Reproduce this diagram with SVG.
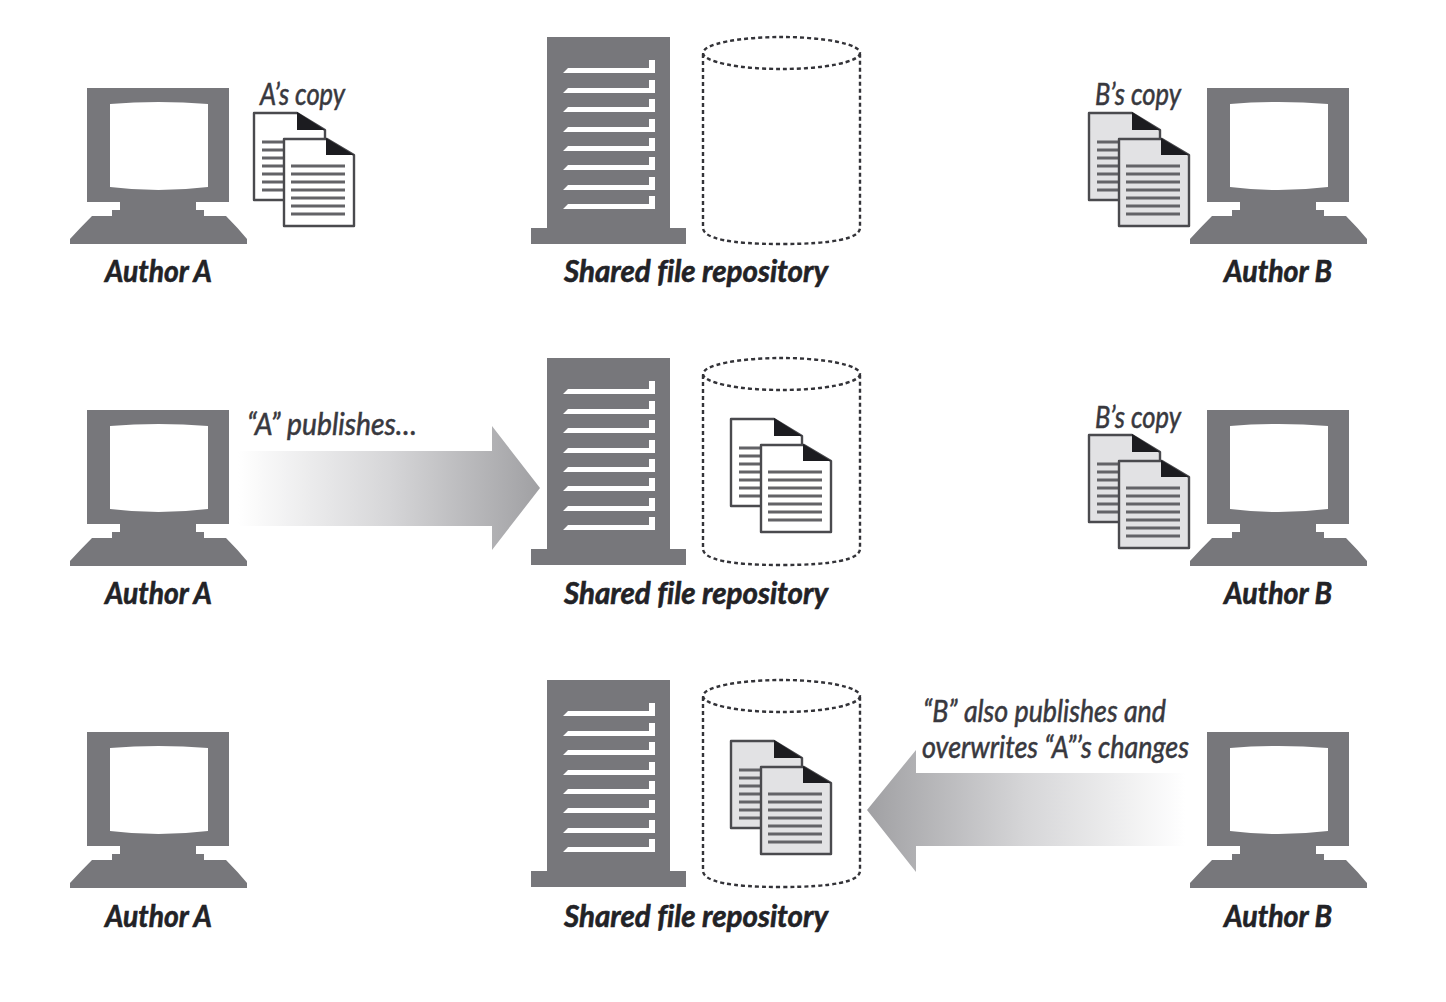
<svg xmlns="http://www.w3.org/2000/svg" width="1446" height="1002" viewBox="0 0 1446 1002">
<style>
text{font-family:Lato,"Open Sans","Liberation Sans",sans-serif;font-style:italic;font-variant-ligatures:none;fill:#2b2b30}
.b{font-weight:700;font-size:31px;fill:#222226;stroke:#222226;stroke-width:.6}
.n{font-weight:400;font-size:31px;fill:#38383e;stroke:#38383e;stroke-width:.55}
.g{fill:#77777b}
.w{fill:#fff}
.page{stroke:#4a4a4e;stroke-width:2.4;stroke-linejoin:round}
.white{fill:#fff}
.gray{fill:#e2e2e4}
.ln{stroke:#636367;stroke-width:3}
.cyl{fill:none;stroke:#333338;stroke-width:2.4;stroke-dasharray:4 3}
</style>
<defs>
<linearGradient id="gr" x1="0" x2="1" y1="0" y2="0"><stop offset="0" stop-color="#fff"/><stop offset=".5" stop-color="#d6d6d8"/><stop offset="1" stop-color="#a0a0a3"/></linearGradient>
<linearGradient id="gl" x1="1" x2="0" y1="0" y2="0"><stop offset="0" stop-color="#fff"/><stop offset=".5" stop-color="#d6d6d8"/><stop offset="1" stop-color="#a0a0a3"/></linearGradient>
<symbol id="pc" overflow="visible">
<path class="g" d="M87 88H229V202H196V210H204V216H226Q238 228 247 239V244H70V239Q80 228 92 216H112V210H120V202H87Z"/>
<path class="w" d="M110 104Q158 100 208 104V187Q158 193 110 187Z"/>
</symbol>
<symbol id="srv" overflow="visible">
<path class="g" d="M547 37H670V228H686V244H531V228H547Z"/>
<path id="slot" class="w" d="M563 73L568 68H649V60H655V73H563Z"/>
<use href="#slot" y="20"/><use href="#slot" y="39"/><use href="#slot" y="59"/><use href="#slot" y="78"/><use href="#slot" y="97"/><use href="#slot" y="117"/><use href="#slot" y="136"/>
</symbol>
<symbol id="cyl" overflow="visible">
<path class="cyl" d="M703 54V228Q704 244 781 244Q859 244 860 228V54"/>
<ellipse class="cyl" cx="781.500" cy="53" rx="78.500" ry="16"/>
</symbol>
<symbol id="docw" overflow="visible">
<path class="page white" d="M254 113H297L325 130V200H254Z"/>
<path d="M297 112L325 130H297Z" fill="#1c1c20"/>
<path class="ln" d="M262 142H284M262 150H284M262 158H284M262 166H284M262 174H284M262 182H284M262 190H284"/>
<path class="page white" d="M284 139H327L354 155V226H284Z"/>
<path d="M326 138L354 155H326Z" fill="#1c1c20"/>
<path class="ln" d="M291 166H345M291 174H345M291 182H345M291 190H345M291 198H345M291 206H345M291 214H345"/>
</symbol>
<symbol id="docg" overflow="visible">
<path class="page gray" d="M254 113H297L325 130V200H254Z"/>
<path d="M297 112L325 130H297Z" fill="#1c1c20"/>
<path class="ln" d="M262 142H284M262 150H284M262 158H284M262 166H284M262 174H284M262 182H284M262 190H284"/>
<path class="page gray" d="M284 139H327L354 155V226H284Z"/>
<path d="M326 138L354 155H326Z" fill="#1c1c20"/>
<path class="ln" d="M291 166H345M291 174H345M291 182H345M291 190H345M291 198H345M291 206H345M291 214H345"/>
</symbol>
</defs>
<rect width="1446" height="1002" fill="#fff"/>
<g id="connectors">
<path fill="url(#gr)" d="M238 451H492V426L540 488L492 550V526H238Z"/>
<path fill="url(#gl)" d="M1185 773H916V750L867 810L916 872V846H1185Z"/>
</g>
<g id="author-a-1"><use href="#pc"/><text class="b" x="105" y="282" textLength="107" lengthAdjust="spacingAndGlyphs">Author A</text></g>
<g id="a-copy"><use href="#docw"/><text class="n" x="260" y="105" textLength="85" lengthAdjust="spacingAndGlyphs">A’s copy</text></g>
<g id="repo-1"><use href="#srv"/><use href="#cyl"/><text class="b" x="564" y="282" textLength="264" lengthAdjust="spacingAndGlyphs">Shared file repository</text></g>
<g id="author-b-1"><use href="#pc" x="1120"/><text class="b" x="1224" y="282" textLength="108" lengthAdjust="spacingAndGlyphs">Author B</text></g>
<g id="b-copy-1"><use href="#docg" x="835"/><text class="n" x="1095" y="105" textLength="86" lengthAdjust="spacingAndGlyphs">B’s copy</text></g>
<g id="author-a-2"><use href="#pc" y="322"/><text class="b" x="105" y="604" textLength="107" lengthAdjust="spacingAndGlyphs">Author A</text></g>
<text class="n" x="247" y="435" textLength="170" lengthAdjust="spacingAndGlyphs">“A” publishes…</text>
<g id="repo-2"><use href="#srv" y="321"/><use href="#cyl" y="321"/><use href="#docw" x="477" y="306"/><text class="b" x="564" y="604" textLength="264" lengthAdjust="spacingAndGlyphs">Shared file repository</text></g>
<g id="author-b-2"><use href="#pc" x="1120" y="322"/><text class="b" x="1224" y="604" textLength="108" lengthAdjust="spacingAndGlyphs">Author B</text></g>
<g id="b-copy-2"><use href="#docg" x="835" y="322"/><text class="n" x="1095" y="428" textLength="86" lengthAdjust="spacingAndGlyphs">B’s copy</text></g>
<g id="author-a-3"><use href="#pc" y="644"/><text class="b" x="105" y="927" textLength="107" lengthAdjust="spacingAndGlyphs">Author A</text></g>
<g id="repo-3"><use href="#srv" y="643"/><use href="#cyl" y="643"/><use href="#docg" x="477" y="628"/><text class="b" x="564" y="927" textLength="264" lengthAdjust="spacingAndGlyphs">Shared file repository</text></g>
<g id="author-b-3"><use href="#pc" x="1120" y="644"/><text class="b" x="1224" y="927" textLength="108" lengthAdjust="spacingAndGlyphs">Author B</text></g>
<text class="n" x="923" y="722" textLength="243" lengthAdjust="spacingAndGlyphs">“B” also publishes and</text>
<text class="n" x="922" y="758" textLength="267" lengthAdjust="spacingAndGlyphs">overwrites “A”’s changes</text>
</svg>
